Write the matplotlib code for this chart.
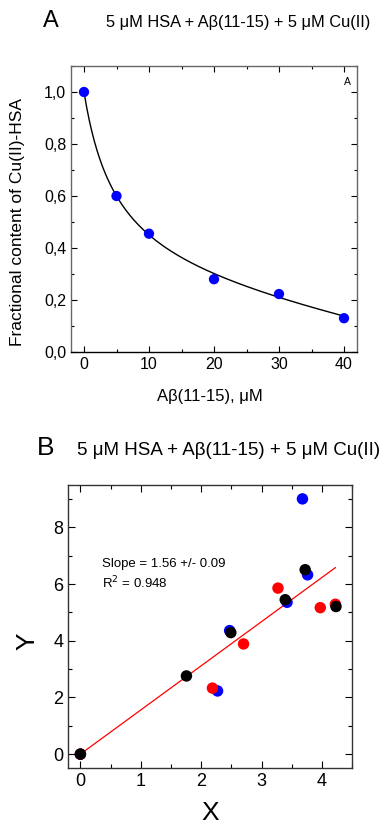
import numpy as np
import matplotlib
matplotlib.use("Agg")
import matplotlib.pyplot as plt
from matplotlib.ticker import MultipleLocator, FuncFormatter

plt.rcParams['font.family'] = ['Liberation Sans', 'DejaVu Sans']

# ---- Panel A data ----
conc_ab = [0, 5, 10, 20, 30, 40]
frac_cu_hsa = [1.0, 0.60, 0.455, 0.28, 0.223, 0.13]
# fit curve parameters: f = 1 - a*x/(K+x) - c*x
fit_a = 0.7515
fit_K = 5.0
fit_c = 0.00485

# ---- Panel B data ----
blue_x = [0, 2.27, 2.47, 3.42, 3.76, 3.675]
blue_y = [0, 2.23, 4.36, 5.36, 6.33, 9.01]
red_x = [0, 2.185, 2.70, 3.27, 3.97, 4.22]
red_y = [0, 2.33, 3.89, 5.86, 5.17, 5.29]
black_x = [0, 1.755, 2.49, 3.39, 3.72, 4.23]
black_y = [0, 2.76, 4.29, 5.45, 6.51, 5.21]
slope = 1.56
line_x_end = 4.22

title_text = "5 \u03bcM HSA + A\u03b2(11-15) + 5 \u03bcM Cu(II)"

W, H = 389, 826
fig = plt.figure(figsize=(W / 100, H / 100), dpi=100)

def style_axes(ax, spine_col):
    for s in ax.spines.values():
        s.set_color(spine_col)
        s.set_linewidth(1.0)
    ax.tick_params(which='both', direction='in', top=True, right=True, colors='black')

# ---- Panel A ----
axA = fig.add_axes([71 / W, 1 - 352 / H, 286 / W, 286 / H])
style_axes(axA, '#666666')
axA.spines['bottom'].set_color('black')
axA.set_xlim(-2, 42)
axA.set_ylim(0, 1.1)
axA.xaxis.set_major_locator(MultipleLocator(10))
axA.xaxis.set_minor_locator(MultipleLocator(5))
axA.yaxis.set_major_locator(MultipleLocator(0.2))
axA.yaxis.set_minor_locator(MultipleLocator(0.1))
axA.yaxis.set_major_formatter(FuncFormatter(lambda v, p: f"{v:.1f}".replace('.', ',')))
axA.tick_params(which='major', length=4, labelsize=11.5, width=0.8)
axA.tick_params(which='minor', length=2.5, width=0.8)
xf = np.linspace(0, 40, 200)
axA.plot(xf, 1 - fit_a * xf / (fit_K + xf) - fit_c * xf, color='black', lw=1.0, zorder=2)
axA.scatter(conc_ab, frac_cu_hsa, s=55, color='#0000ff', edgecolors='none', zorder=3)
axA.set_ylabel("Fractional content of Cu(II)-HSA", fontsize=12.5)
axA.yaxis.set_label_coords(-0.161, 0.453)
axA.set_xlabel("A\u03b2(11-15), \u03bcM", fontsize=12, va='center')
axA.xaxis.set_label_coords(0.484, -0.154)
axA.text(0.965, 0.944, "A", transform=axA.transAxes, fontsize=7.5, ha='center', va='center')

fig.text(43 / W, 1 - 27.3 / H, "A", fontsize=17, ha='left', va='baseline')
fig.text(106 / W, 1 - 27.3 / H, title_text, fontsize=11.8, ha='left', va='baseline')

# ---- Panel B ----
axB = fig.add_axes([68.3 / W, 1 - 768.3 / H, 284 / W, 283.3 / H])
style_axes(axB, '#333333')
axB.set_xlim(-0.2, 4.5)
axB.set_ylim(-0.5, 9.5)
axB.xaxis.set_major_locator(MultipleLocator(1))
axB.xaxis.set_minor_locator(MultipleLocator(0.5))
axB.yaxis.set_major_locator(MultipleLocator(2))
axB.yaxis.set_minor_locator(MultipleLocator(1))
axB.tick_params(which='major', length=5, labelsize=13, width=0.8)
axB.tick_params(which='minor', length=3, width=0.8)
lx = np.array([0, line_x_end])
axB.plot(lx, slope * lx, color='red', lw=0.9, zorder=2)
axB.scatter(blue_x, blue_y, s=68, color='#0000ff', edgecolors='none', zorder=3)
axB.scatter(red_x, red_y, s=68, color='#ff0000', edgecolors='none', zorder=4)
axB.scatter(black_x, black_y, s=68, color='black', edgecolors='none', zorder=5)
axB.text(0.36, 6.72, "Slope = 1.56 +/- 0.09", fontsize=9.5, ha='left', va='center')
axB.text(0.36, 6.04, "R$^2$ = 0.948", fontsize=9.5, ha='left', va='center')
axB.set_xlabel("X", fontsize=19, va='center')
axB.xaxis.set_label_coords(0.499, -0.158)
axB.set_ylabel("Y", fontsize=19, va='center')
axB.yaxis.set_label_coords(-0.1437, 0.449)

fig.text(37 / W, 1 - 455 / H, "B", fontsize=19, ha='left', va='baseline')
fig.text(77 / W, 1 - 455 / H, title_text, fontsize=13.5, ha='left', va='baseline')

fig.savefig("out.png", dpi=100)
